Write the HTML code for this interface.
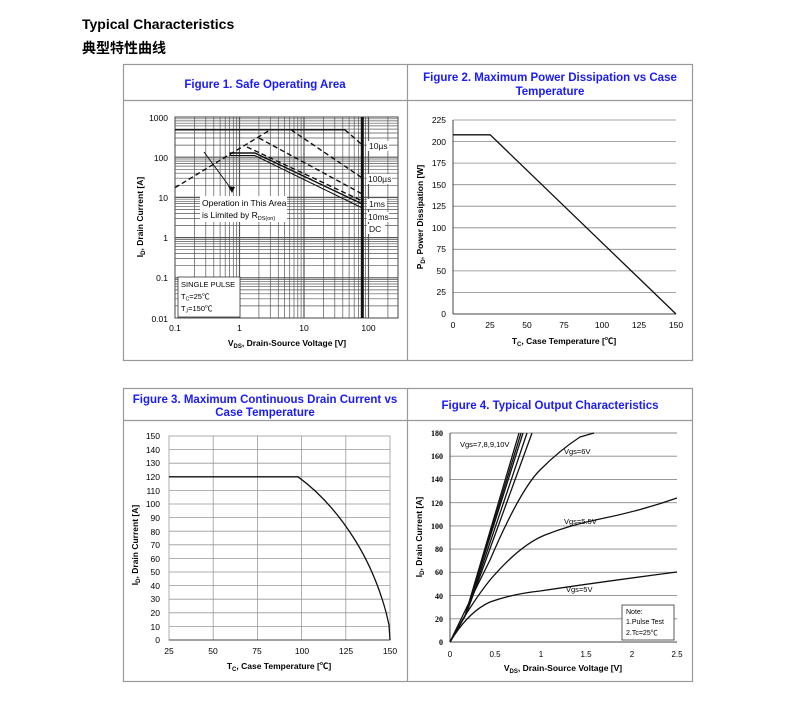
<!DOCTYPE html>
<html><head><meta charset="utf-8"><style>
body{margin:0;background:#fff;width:807px;height:698px;overflow:hidden;font-family:"Liberation Sans","Noto Sans CJK SC",sans-serif;}
</style></head><body>
<svg width="807" height="698" xmlns="http://www.w3.org/2000/svg" font-family="Liberation Sans, Noto Sans CJK SC, sans-serif">
<text x="82" y="29" font-size="14" font-weight="bold">Typical Characteristics</text>
<text x="82" y="53" font-size="14" font-weight="bold">典型特性曲线</text>
<g fill="none" stroke="#999" stroke-width="1.2">
<rect x="123.5" y="64.5" width="569" height="296"/>
<line x1="407.5" y1="64" x2="407.5" y2="361"/>
<line x1="123" y1="100.5" x2="693" y2="100.5"/>
<rect x="123.5" y="388.5" width="569" height="293"/>
<line x1="407.5" y1="388" x2="407.5" y2="682"/>
<line x1="123" y1="420.5" x2="693" y2="420.5"/>
</g>
<g fill="#1a1aff" font-weight="bold" font-size="11.5" text-anchor="middle">
<text x="265" y="88">Figure 1. Safe Operating Area</text>
<text x="550" y="81">Figure 2. Maximum Power Dissipation vs Case</text>
<text x="550" y="95">Temperature</text>
<text x="265" y="403">Figure 3. Maximum Continuous Drain Current vs</text>
<text x="265" y="416">Case Temperature</text>
<text x="550" y="409">Figure 4. Typical Output Characteristics</text>
</g>

<!-- FIG1 -->
<g>
<rect x="175" y="117" width="223" height="201" fill="#fff" stroke="#444"/>
<g stroke="#555" stroke-width="0.7">
<line x1="194.4" y1="117" x2="194.4" y2="318"/><line x1="205.8" y1="117" x2="205.8" y2="318"/><line x1="213.8" y1="117" x2="213.8" y2="318"/><line x1="220.1" y1="117" x2="220.1" y2="318"/><line x1="225.2" y1="117" x2="225.2" y2="318"/><line x1="229.5" y1="117" x2="229.5" y2="318"/><line x1="233.3" y1="117" x2="233.3" y2="318"/><line x1="236.6" y1="117" x2="236.6" y2="318"/>
<line x1="239.5" y1="117" x2="239.5" y2="318" stroke-width="1.2"/>
<line x1="258.9" y1="117" x2="258.9" y2="318"/><line x1="270.3" y1="117" x2="270.3" y2="318"/><line x1="278.3" y1="117" x2="278.3" y2="318"/><line x1="284.6" y1="117" x2="284.6" y2="318"/><line x1="289.7" y1="117" x2="289.7" y2="318"/><line x1="294.0" y1="117" x2="294.0" y2="318"/><line x1="297.8" y1="117" x2="297.8" y2="318"/><line x1="301.1" y1="117" x2="301.1" y2="318"/>
<line x1="304" y1="117" x2="304" y2="318" stroke-width="1.2"/>
<line x1="323.4" y1="117" x2="323.4" y2="318"/><line x1="334.8" y1="117" x2="334.8" y2="318"/><line x1="342.8" y1="117" x2="342.8" y2="318"/><line x1="349.1" y1="117" x2="349.1" y2="318"/><line x1="354.2" y1="117" x2="354.2" y2="318"/><line x1="358.5" y1="117" x2="358.5" y2="318"/><line x1="362.3" y1="117" x2="362.3" y2="318"/><line x1="365.6" y1="117" x2="365.6" y2="318"/>
<line x1="368.5" y1="117" x2="368.5" y2="318" stroke-width="1.2"/>
<line x1="387.9" y1="117" x2="387.9" y2="318"/>
</g>
<g stroke="#555" stroke-width="0.7">
<line x1="175" y1="145.1" x2="398" y2="145.1"/><line x1="175" y1="138" x2="398" y2="138"/><line x1="175" y1="133" x2="398" y2="133"/><line x1="175" y1="129.1" x2="398" y2="129.1"/><line x1="175" y1="125.9" x2="398" y2="125.9"/><line x1="175" y1="123.2" x2="398" y2="123.2"/><line x1="175" y1="120.9" x2="398" y2="120.9"/><line x1="175" y1="118.8" x2="398" y2="118.8"/>
<line x1="175" y1="157.2" x2="398" y2="157.2" stroke-width="1.2"/>
<line x1="175" y1="185.3" x2="398" y2="185.3"/><line x1="175" y1="178.2" x2="398" y2="178.2"/><line x1="175" y1="173.2" x2="398" y2="173.2"/><line x1="175" y1="169.3" x2="398" y2="169.3"/><line x1="175" y1="166.1" x2="398" y2="166.1"/><line x1="175" y1="163.4" x2="398" y2="163.4"/><line x1="175" y1="161.1" x2="398" y2="161.1"/><line x1="175" y1="159" x2="398" y2="159"/>
<line x1="175" y1="197.4" x2="398" y2="197.4" stroke-width="1.2"/>
<line x1="175" y1="225.5" x2="398" y2="225.5"/><line x1="175" y1="218.4" x2="398" y2="218.4"/><line x1="175" y1="213.4" x2="398" y2="213.4"/><line x1="175" y1="209.5" x2="398" y2="209.5"/><line x1="175" y1="206.3" x2="398" y2="206.3"/><line x1="175" y1="203.6" x2="398" y2="203.6"/><line x1="175" y1="201.3" x2="398" y2="201.3"/><line x1="175" y1="199.2" x2="398" y2="199.2"/>
<line x1="175" y1="237.6" x2="398" y2="237.6" stroke-width="1.2"/>
<line x1="175" y1="265.7" x2="398" y2="265.7"/><line x1="175" y1="258.6" x2="398" y2="258.6"/><line x1="175" y1="253.6" x2="398" y2="253.6"/><line x1="175" y1="249.7" x2="398" y2="249.7"/><line x1="175" y1="246.5" x2="398" y2="246.5"/><line x1="175" y1="243.8" x2="398" y2="243.8"/><line x1="175" y1="241.5" x2="398" y2="241.5"/><line x1="175" y1="239.4" x2="398" y2="239.4"/>
<line x1="175" y1="277.8" x2="398" y2="277.8" stroke-width="1.2"/>
<line x1="175" y1="305.9" x2="398" y2="305.9"/><line x1="175" y1="298.8" x2="398" y2="298.8"/><line x1="175" y1="293.8" x2="398" y2="293.8"/><line x1="175" y1="289.9" x2="398" y2="289.9"/><line x1="175" y1="286.7" x2="398" y2="286.7"/><line x1="175" y1="284" x2="398" y2="284"/><line x1="175" y1="281.7" x2="398" y2="281.7"/><line x1="175" y1="279.6" x2="398" y2="279.6"/>
</g>
<g fill="none" stroke="#111" stroke-width="1.4">
<line x1="175" y1="129.8" x2="345" y2="129.8"/>
<polyline points="229.5,153 254.8,153 362.3,204"/>
<polyline points="229.5,155.5 254.8,155.5 362.3,208" stroke-width="1"/>
<line x1="175" y1="187.7" x2="270.3" y2="129.8" stroke-dasharray="5,3"/>
<line x1="345" y1="129.8" x2="362.3" y2="145" stroke-dasharray="5,3"/>
<line x1="291" y1="129.8" x2="362.3" y2="178" stroke-dasharray="5,3"/>
<line x1="258.9" y1="138" x2="362.3" y2="194" stroke-dasharray="5,3"/>
<line x1="247" y1="147" x2="362.3" y2="201" stroke-dasharray="5,3"/>
<line x1="362.3" y1="117" x2="362.3" y2="318" stroke-width="3"/>
<line x1="204" y1="152" x2="232" y2="190" stroke-width="1"/>
</g>
<polygon points="232,193 228,186 235,187" fill="#111"/>
<rect x="200" y="196" width="87" height="26" fill="#fff"/>
<text x="202" y="206" font-size="8.5">Operation in This Area</text>
<text x="202" y="218" font-size="8.5">is Limited by R<tspan font-size="5.5" dy="2">DS(on)</tspan></text>
<g font-size="8.5" fill="#111">
<rect x="367" y="141" width="22" height="10" fill="#fff"/><text x="369" y="149">10µs</text>
<rect x="367" y="174" width="25" height="10" fill="#fff"/><text x="368" y="182">100µs</text>
<rect x="367" y="199" width="20" height="10" fill="#fff"/><text x="369" y="207">1ms</text>
<rect x="367" y="212" width="22" height="10" fill="#fff"/><text x="368" y="220">10ms</text>
<rect x="367" y="224" width="18" height="10" fill="#fff"/><text x="369" y="232">DC</text>
</g>
<rect x="178" y="277" width="62" height="40" fill="#fff" stroke="#333" stroke-width="0.8"/>
<g font-size="7.5"><text x="181" y="287">SINGLE PULSE</text><text x="181" y="299">T<tspan font-size="5" dy="1.5">C</tspan><tspan dy="-1.5">=25℃</tspan></text><text x="181" y="311">T<tspan font-size="5" dy="1.5">J</tspan><tspan dy="-1.5">=150℃</tspan></text></g>
<g font-size="8.5" text-anchor="end"><text x="168" y="121">1000</text><text x="168" y="161">100</text><text x="168" y="201">10</text><text x="168" y="241">1</text><text x="168" y="281">0.1</text><text x="168" y="322">0.01</text></g>
<g font-size="8.5" text-anchor="middle"><text x="175" y="331">0.1</text><text x="239.5" y="331">1</text><text x="304" y="331">10</text><text x="368.5" y="331">100</text></g>
<text x="287" y="346" font-size="8.5" font-weight="bold" text-anchor="middle">V<tspan font-size="6" dy="2">DS</tspan><tspan dy="-2">, Drain-Source Voltage [V]</tspan></text>
<text transform="translate(143,217) rotate(-90)" font-size="8.5" font-weight="bold" text-anchor="middle">I<tspan font-size="6" dy="2">D</tspan><tspan dy="-2">, Drain Current [A]</tspan></text>
</g>

<!-- FIG2 -->
<g>
<g stroke="#888" stroke-width="0.8">
<line x1="453" y1="120" x2="676" y2="120"/><line x1="453" y1="141.6" x2="676" y2="141.6"/><line x1="453" y1="163.1" x2="676" y2="163.1"/><line x1="453" y1="184.7" x2="676" y2="184.7"/><line x1="453" y1="206.2" x2="676" y2="206.2"/><line x1="453" y1="227.8" x2="676" y2="227.8"/><line x1="453" y1="249.3" x2="676" y2="249.3"/><line x1="453" y1="270.9" x2="676" y2="270.9"/><line x1="453" y1="292.4" x2="676" y2="292.4"/>
</g>
<line x1="453" y1="120" x2="453" y2="314" stroke="#444"/><line x1="453" y1="314" x2="676" y2="314" stroke="#444"/>
<polyline points="453,134.8 490.2,134.8 676,314" fill="none" stroke="#111" stroke-width="1.3"/>
<g font-size="8.5" text-anchor="end"><text x="446" y="123">225</text><text x="446" y="145">200</text><text x="446" y="166">175</text><text x="446" y="188">150</text><text x="446" y="209">125</text><text x="446" y="231">100</text><text x="446" y="252">75</text><text x="446" y="274">50</text><text x="446" y="295">25</text><text x="446" y="317">0</text></g>
<g font-size="8.5" text-anchor="middle"><text x="453" y="328">0</text><text x="490" y="328">25</text><text x="527" y="328">50</text><text x="564" y="328">75</text><text x="602" y="328">100</text><text x="639" y="328">125</text><text x="676" y="328">150</text></g>
<text x="564" y="344" font-size="8.5" font-weight="bold" text-anchor="middle">T<tspan font-size="6" dy="2">C</tspan><tspan dy="-2">, Case Temperature [℃]</tspan></text>
<text transform="translate(423,217) rotate(-90)" font-size="8.5" font-weight="bold" text-anchor="middle">P<tspan font-size="6" dy="2">D</tspan><tspan dy="-2">, Power Dissipation [W]</tspan></text>
</g>

<!-- FIG3 -->
<g>
<rect x="169" y="436" width="221" height="204" fill="none" stroke="#999" stroke-width="0.8"/>
<g stroke="#999" stroke-width="0.8">
<line x1="213.2" y1="436" x2="213.2" y2="640"/><line x1="257.4" y1="436" x2="257.4" y2="640"/><line x1="301.6" y1="436" x2="301.6" y2="640"/><line x1="345.8" y1="436" x2="345.8" y2="640"/>
<line x1="169" y1="449.6" x2="390" y2="449.6"/><line x1="169" y1="463.2" x2="390" y2="463.2"/><line x1="169" y1="476.8" x2="390" y2="476.8"/><line x1="169" y1="490.4" x2="390" y2="490.4"/><line x1="169" y1="504" x2="390" y2="504"/><line x1="169" y1="517.6" x2="390" y2="517.6"/><line x1="169" y1="531.2" x2="390" y2="531.2"/><line x1="169" y1="544.8" x2="390" y2="544.8"/><line x1="169" y1="558.4" x2="390" y2="558.4"/><line x1="169" y1="572" x2="390" y2="572"/><line x1="169" y1="585.6" x2="390" y2="585.6"/><line x1="169" y1="599.2" x2="390" y2="599.2"/><line x1="169" y1="612.8" x2="390" y2="612.8"/><line x1="169" y1="626.4" x2="390" y2="626.4"/>
</g>
<line x1="169" y1="640" x2="390" y2="640" stroke="#444"/>
<path d="M169,476.8 L298,476.8 Q330,500 355,540 Q375,572 386,612 L389,625 L390,640" fill="none" stroke="#111" stroke-width="1.3"/>
<g font-size="8.5" text-anchor="end"><text x="160" y="439">150</text><text x="160" y="453">140</text><text x="160" y="466">130</text><text x="160" y="480">120</text><text x="160" y="494">110</text><text x="160" y="507">100</text><text x="160" y="521">90</text><text x="160" y="535">80</text><text x="160" y="548">70</text><text x="160" y="562">60</text><text x="160" y="575">50</text><text x="160" y="589">40</text><text x="160" y="602">30</text><text x="160" y="616">20</text><text x="160" y="630">10</text><text x="160" y="643">0</text></g>
<g font-size="8.5" text-anchor="middle"><text x="169" y="654">25</text><text x="213" y="654">50</text><text x="257" y="654">75</text><text x="302" y="654">100</text><text x="346" y="654">125</text><text x="390" y="654">150</text></g>
<text x="279" y="669" font-size="8.5" font-weight="bold" text-anchor="middle">T<tspan font-size="6" dy="2">C</tspan><tspan dy="-2">, Case Temperature [℃]</tspan></text>
<text transform="translate(138,545) rotate(-90)" font-size="8.5" font-weight="bold" text-anchor="middle">I<tspan font-size="6" dy="2">D</tspan><tspan dy="-2">, Drain Current [A]</tspan></text>
</g>

<!-- FIG4 -->
<g>
<g stroke="#888" stroke-width="0.9">
<line x1="450" y1="433" x2="677" y2="433"/><line x1="450" y1="456.2" x2="677" y2="456.2"/><line x1="450" y1="479.4" x2="677" y2="479.4"/><line x1="450" y1="502.7" x2="677" y2="502.7"/><line x1="450" y1="525.9" x2="677" y2="525.9"/><line x1="450" y1="549.1" x2="677" y2="549.1"/><line x1="450" y1="572.3" x2="677" y2="572.3"/><line x1="450" y1="595.6" x2="677" y2="595.6"/><line x1="450" y1="618.8" x2="677" y2="618.8"/>
</g>
<line x1="450" y1="433" x2="450" y2="642" stroke="#444"/><line x1="450" y1="642" x2="677" y2="642" stroke="#444"/>
<g fill="none" stroke="#111" stroke-width="1.3">
<path d="M450,642 L465,616 L519,433"/>
<path d="M450,642 L465,616 L521,433"/>
<path d="M450,642 L465,616 L523,433"/>
<path d="M450,642 L466,614 L527,433"/>
<path d="M450,642 L467,612 L532,433"/>
<path d="M450,642 Q470,600 490,560 Q520,490 540,470 Q560,450 580,437 L594,433"/>
<path d="M450,642 Q470,605 490,580 Q520,545 545,535 Q570,525 600,519 Q640,511 677,498"/>
<path d="M450,642 Q468,612 490,602 Q512,594 540,591 Q600,582 677,572"/>
</g>
<g font-size="7.5"><text x="460" y="447">Vgs=7,8,9,10V</text><text x="564" y="454">Vgs=6V</text><text x="564" y="524">Vgs=5.5V</text><text x="566" y="592">Vgs=5V</text></g>
<rect x="622" y="605" width="52" height="35" fill="#fff" stroke="#333" stroke-width="0.8"/>
<g font-size="7"><text x="626" y="614">Note:</text><text x="626" y="624">1.Pulse Test</text><text x="626" y="635">2.Tc=25℃</text></g>
<g font-size="8" font-family="Liberation Serif, serif" font-weight="bold" text-anchor="end"><text x="443" y="436">180</text><text x="443" y="459">160</text><text x="443" y="482">140</text><text x="443" y="506">120</text><text x="443" y="529">100</text><text x="443" y="552">80</text><text x="443" y="575">60</text><text x="443" y="599">40</text><text x="443" y="622">20</text><text x="443" y="645">0</text></g>
<g font-size="8" text-anchor="middle"><text x="450" y="657">0</text><text x="495" y="657">0.5</text><text x="541" y="657">1</text><text x="586" y="657">1.5</text><text x="632" y="657">2</text><text x="677" y="657">2.5</text></g>
<text x="563" y="671" font-size="8.5" font-weight="bold" text-anchor="middle">V<tspan font-size="6" dy="2">DS</tspan><tspan dy="-2">, Drain-Source Voltage [V]</tspan></text>
<text transform="translate(422,537) rotate(-90)" font-size="8.5" font-weight="bold" text-anchor="middle">I<tspan font-size="6" dy="2">D</tspan><tspan dy="-2">, Drain Current [A]</tspan></text>
</g>
</svg>
</body></html>
